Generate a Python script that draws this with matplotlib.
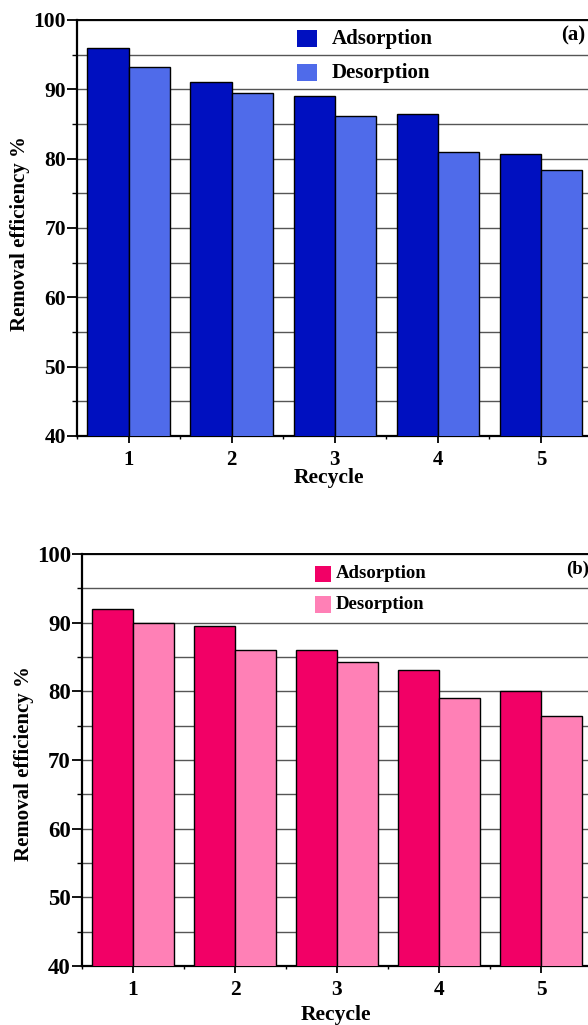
import matplotlib
matplotlib.use("Agg")
import matplotlib.pyplot as plt
from matplotlib.patches import Rectangle
from matplotlib.ticker import MultipleLocator
import numpy as np

plt.rcParams['font.family'] = ['Liberation Serif', 'DejaVu Serif']
plt.rcParams['font.weight'] = 'bold'

cycles = [1, 2, 3, 4, 5]
series_names = ["Adsorption", "Desorption"]

# Panel (a)
adsorption_a = [96.0, 91.1, 89.0, 86.4, 80.7]
desorption_a = [93.2, 89.4, 86.1, 81.0, 78.3]
# Panel (b)
adsorption_b = [92.0, 89.5, 86.0, 83.1, 80.0]
desorption_b = [90.0, 86.0, 84.2, 79.0, 76.4]

colors_a = ["#0010C0", "#4F6BEA"]
colors_b = ["#F20066", "#FF80B6"]

fig = plt.figure(figsize=(5.88, 10.25), dpi=100)

W, H = 588.0, 1025.0


def make_axes(left_px, right_px, top_px, bottom_px):
    return fig.add_axes([left_px / W, 1 - bottom_px / H,
                         (right_px - left_px) / W, (bottom_px - top_px) / H])


def draw_panel(ax, ads, des, colors, tag, ytick_fs, xtick_fs, leg_fs,
               leg_x0, leg_x1, leg_h, leg_tx, leg_y, tag_x,
               ylab_xy, xlab_xy):
    x = np.array(cycles, dtype=float)
    width = 0.40
    ax.bar(x - width / 2, ads, width, bottom=0, color=colors[0],
           edgecolor="black", linewidth=1.0, zorder=3)
    ax.bar(x + width / 2, des, width, bottom=0, color=colors[1],
           edgecolor="black", linewidth=1.0, zorder=3)
    ax.set_xlim(0.5, 5.5)
    ax.set_ylim(40, 100)

    ax.yaxis.set_major_locator(MultipleLocator(10))
    ax.yaxis.set_minor_locator(MultipleLocator(5))
    ax.set_xticks(cycles)
    ax.xaxis.set_minor_locator(MultipleLocator(0.5))
    ax.grid(True, which="both", axis="y", color="#555555", linewidth=1.0,
            zorder=1)

    ax.tick_params(axis="y", which="major", length=7, width=1.3, pad=1,
                   labelsize=ytick_fs)
    ax.tick_params(axis="y", which="minor", length=3.5, width=1.0)
    ax.tick_params(axis="x", which="major", length=5, width=1.3, pad=5,
                   labelsize=xtick_fs)
    ax.tick_params(axis="x", which="minor", length=2.5, width=1.0)
    for lab in ax.get_xticklabels() + ax.get_yticklabels():
        lab.set_fontweight("bold")

    for side in ("left", "bottom"):
        ax.spines[side].set_linewidth(1.6)
    ax.spines["top"].set_linewidth(1.4)
    ax.spines["right"].set_linewidth(1.4)

    ax.set_ylabel("Removal efficiency %", fontsize=15, fontweight="bold")
    ax.yaxis.set_label_coords(*ylab_xy)
    ax.yaxis.label.set_va("center")
    ax.set_xlabel("Recycle", fontsize=15.5, fontweight="bold")
    ax.xaxis.set_label_coords(*xlab_xy)
    ax.xaxis.label.set_va("center")

    # legend entries placed in the upper band of the plot
    tr = ax.get_yaxis_transform()
    blend = matplotlib.transforms.blended_transform_factory(ax.transAxes,
                                                            ax.transData)
    for name, col, yc in zip(series_names, colors, leg_y):
        ax.add_patch(Rectangle((leg_x0, yc - leg_h / 2), leg_x1 - leg_x0,
                               leg_h, transform=blend, facecolor=col,
                               edgecolor="none", zorder=4))
        ax.text(leg_tx, yc, name, transform=blend, fontsize=leg_fs,
                fontweight="bold", va="center", ha="left", zorder=4)
    ax.text(tag_x, 97.7, tag, transform=blend, fontsize=leg_fs,
            fontweight="bold", va="center", ha="left", zorder=4)


ax_a = make_axes(77, 592.6, 20, 436)
draw_panel(ax_a, adsorption_a, desorption_a, colors_a, "(a)",
           ytick_fs=15.5, xtick_fs=15, leg_fs=15,
           leg_x0=0.4267, leg_x1=0.4655, leg_h=2.45, leg_tx=0.4946,
           leg_y=(97.3, 92.4), tag_x=0.9387,
           ylab_xy=(-0.110, 0.486), xlab_xy=(0.489, -0.101))

ax_b = make_axes(82, 592, 554, 966)
draw_panel(ax_b, adsorption_b, desorption_b, colors_b, "(b)",
           ytick_fs=16.5, xtick_fs=15.5, leg_fs=13.5,
           leg_x0=0.457, leg_x1=0.488, leg_h=2.45, leg_tx=0.498,
           leg_y=(97.1, 92.6), tag_x=0.949,
           ylab_xy=(-0.114, 0.4915), xlab_xy=(0.498, -0.119))

fig.savefig("out.png", dpi=100)
